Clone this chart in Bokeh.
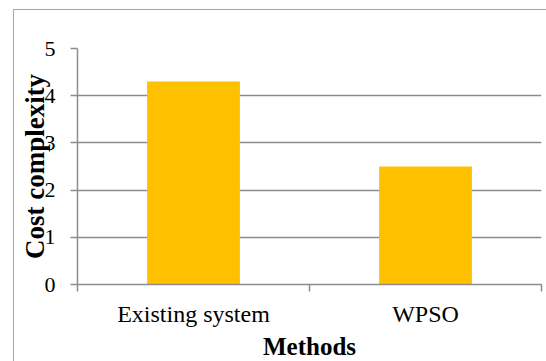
from bokeh.plotting import figure
from bokeh.models import Range1d, FixedTicker, ColumnDataSource
from bokeh.embed import file_html
from bokeh.resources import INLINE

# Chart data
categories = ["Existing system", "WPSO"]
cost_complexity = [4.3, 2.5]
y_ticks = [0, 1, 2, 3, 4, 5]

FONT = "Liberation Serif"
GRID = "#8c8c8c"

# Bars sit in the middle of each category slot on a 0..N axis
x_centers = [i + 0.5 for i in range(len(categories))]
source = ColumnDataSource(dict(x=x_centers, top=cost_complexity, method=categories))

p = figure(
    width=533, height=352,
    output_backend="svg", toolbar_location=None,
    x_range=Range1d(0, len(categories)), y_range=Range1d(0, max(y_ticks)),
    min_border_left=63, min_border_right=6, min_border_top=38, min_border_bottom=77,
)
p.margin = (9, 0, 0, 13)
p.styles = {"border-left": "1px solid #a6a6a6", "border-top": "1px solid #a6a6a6"}
p.outline_line_color = None
p.background_fill_color = "white"
p.border_fill_color = "white"

p.vbar(x="x", top="top", width=0.4, source=source, color="#FFC000", line_color=None)

# x axis: category names at slot centres, tick marks at slot boundaries
p.xaxis.ticker = FixedTicker(ticks=x_centers, minor_ticks=list(range(len(categories) + 1)))
p.xaxis.major_label_overrides = {xc: c for xc, c in zip(x_centers, categories)}
p.xaxis.major_tick_line_color = None
p.xaxis.major_tick_out = 7
p.xaxis.major_tick_in = 0
p.xaxis.minor_tick_line_color = GRID
p.xaxis.minor_tick_line_width = 1.5
p.xaxis.minor_tick_out = 7
p.xaxis.minor_tick_in = 0
p.xaxis.axis_line_color = GRID
p.xaxis.axis_line_width = 1.5
p.xaxis.major_label_text_font = FONT
p.xaxis.major_label_text_font_size = "24px"
p.xaxis.major_label_text_color = "black"
p.xaxis.major_label_standoff = 9
p.xaxis.axis_label = "Methods"
p.xaxis.axis_label_text_font = FONT
p.xaxis.axis_label_text_font_size = "25px"
p.xaxis.axis_label_text_font_style = "bold"
p.xaxis.axis_label_text_color = "black"
p.xaxis.axis_label_standoff = 3

# y axis
p.yaxis.ticker = FixedTicker(ticks=y_ticks, minor_ticks=[])
p.yaxis.axis_line_color = GRID
p.yaxis.axis_line_width = 1.5
p.yaxis.major_tick_line_color = GRID
p.yaxis.major_tick_line_width = 1.5
p.yaxis.major_tick_out = 7
p.yaxis.major_tick_in = 0
p.yaxis.major_label_text_font = FONT
p.yaxis.major_label_text_font_size = "22px"
p.yaxis.major_label_text_color = "black"
p.yaxis.major_label_standoff = 15
p.yaxis.axis_label = "Cost complexity"
p.yaxis.axis_label_text_font = FONT
p.yaxis.axis_label_text_font_size = "27px"
p.yaxis.axis_label_text_font_style = "bold"
p.yaxis.axis_label_text_color = "black"
p.yaxis.axis_label_standoff = -8

p.xgrid.grid_line_color = None
p.ygrid.ticker = FixedTicker(ticks=y_ticks)
p.ygrid.grid_line_color = GRID
p.ygrid.grid_line_width = 1.5

open("out.html", "w").write(file_html(p, INLINE))
